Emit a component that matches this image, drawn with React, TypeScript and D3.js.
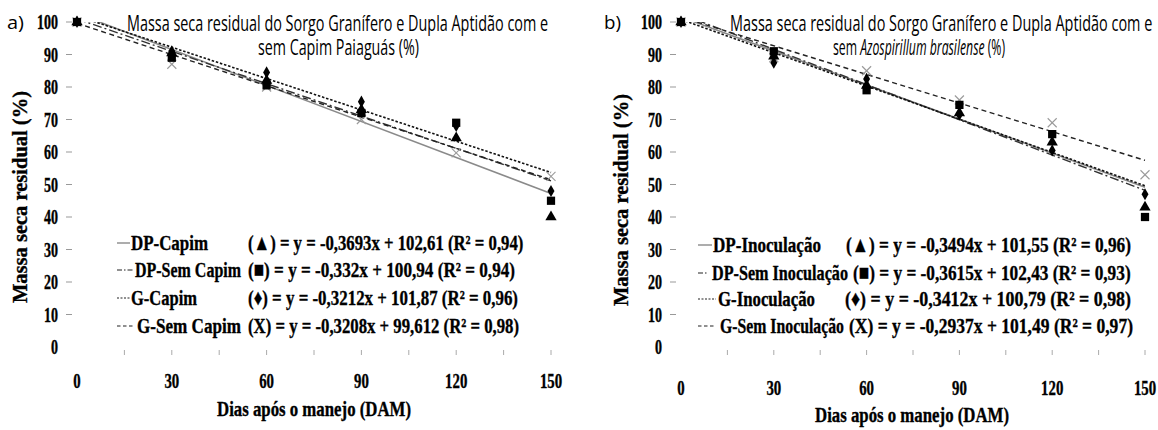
import React, { useLayoutEffect, useRef, useState } from "react";
import * as d3 from "d3";

const days = [0, 30, 60, 90, 120, 150];
const xTickLabels = [0, 30, 60, 90, 120, 150];
const xMinorTicks = [15, 30, 45, 60, 75, 90, 105, 120, 135, 150];
const yTickLabels = [0, 10, 20, 30, 40, 50, 60, 70, 80, 90, 100];

// Panel a – Capim Paiaguás
const aTitle1 = "Massa seca residual do Sorgo Granífero e Dupla Aptidão com e";
const aTitle2 = "sem Capim Paiaguás (%)";
const aLabels = ["DP-Capim", "DP-Sem Capim", "G-Capim", "G-Sem Capim"];
const aEquations = [
  "(▲) = y = -0,3693x + 102,61 (R² = 0,94)",
  "(■) = y = -0,332x + 100,94 (R² = 0,94)",
  "(♦) = y = -0,3212x + 101,87 (R² = 0,96)",
  "(X) = y = -0,3208x + 99,612 (R² = 0,98)",
];
const aSlopes = [-0.3693, -0.332, -0.3212, -0.3208];
const aIntercepts = [102.61, 100.94, 101.87, 99.612];
const aTriangle = [100, 90.5, 82, 73, 64.3, 40];
const aSquare = [100, 89, 80.5, 72, 69, 45];
const aDiamond = [100, 91, 84.5, 75.5, 68, 48];
const aCross = [100, 87, 80, 70, 59.7, 52.5];

// Panel b – Azospirillum brasilense
const bTitle1 = "Massa seca residual do Sorgo Granífero e Dupla Aptidão com e";
const bTitle2a = "sem ";
const bTitle2b = "Azospirillum brasilense";
const bTitle2c = " (%)";
const bLabels = ["DP-Inoculação", "DP-Sem Inoculação", "G-Inoculação", "G-Sem Inoculação"];
const bEquations = [
  "(▲) = y = -0,3494x + 101,55 (R² = 0,96)",
  "(■) = y = -0,3615x + 102,43 (R² = 0,93)",
  "(♦) = y = -0,3412x + 100,79 (R² = 0,98)",
  "(X) = y = -0,2937x + 101,49 (R² = 0,97)",
];
const bSlopes = [-0.3494, -0.3615, -0.3412, -0.2937];
const bIntercepts = [101.55, 102.43, 100.79, 101.49];
const bTriangle = [100, 89.5, 80.5, 72, 63, 43];
const bSquare = [100, 91, 79, 74.5, 65.5, 40];
const bDiamond = [100, 87.5, 82.5, 71.5, 60.5, 47];
const bCross = [100, 89, 85, 76, 69, 53];

const yTitle = "Massa seca residual (%)";
const xTitle = "Dias após o manejo (DAM)";

const SERIF = "'Liberation Serif', 'Times New Roman', 'DejaVu Serif', serif";
const SANS = "'Open Sans', 'Noto Sans', 'Liberation Sans', sans-serif";

const lineStyles = [
  { stroke: "#8a8a8a", dash: "", width: 1.6 },
  { stroke: "#333", dash: "9,3,2,3", width: 1.4 },
  { stroke: "#111", dash: "2.5,1.8", width: 1.6 },
  { stroke: "#222", dash: "5,3.5", width: 1.4 },
];

type Layout = {
  id: string;
  x0: number; x1: number; y0: number; y1: number;
  tag: string; tagX: number;
  yTitleX: number; yTitleY: number;
  xLabY: number; xTitleX: number; xTitleY: number;
  legLineX: number; legTextX: number[]; legTextW: number[]; legEqX: number[]; legEqW: number[]; legY: number[];
  legLineW: number[];
};

// Text squeezed horizontally (via a scale transform) to a measured target width.
function FitText({
  x, y, w, anchor = "start", rotate = 0, family = SERIF, size = 20, bold = true, heavy = true, children,
}: {
  x: number; y: number; w: number; anchor?: "start" | "middle" | "end"; rotate?: number;
  family?: string; size?: number; bold?: boolean; heavy?: boolean; children: React.ReactNode;
}) {
  const ref = useRef<SVGTextElement>(null);
  const [sx, setSx] = useState(0.72);
  useLayoutEffect(() => {
    const measure = () => {
      const el = ref.current;
      if (!el) return;
      const n = el.getComputedTextLength();
      if (n > 0) setSx(w / n);
    };
    measure();
    const fonts = (document as any).fonts;
    if (fonts && fonts.ready) fonts.ready.then(measure);
  }, [w]);
  return (
    <text
      ref={ref}
      transform={`translate(${x},${y}) rotate(${rotate}) scale(${sx},1)`}
      textAnchor={anchor}
      fontFamily={family}
      fontWeight={bold ? "bold" : "normal"}
      fontSize={size}
      fill="#000"
      stroke={heavy ? "#000" : "none"}
      strokeWidth={heavy ? 0.35 : 0}
    >
      {children}
    </text>
  );
}

function Marker({ kind, cx, cy }: { kind: number; cx: number; cy: number }) {
  if (kind === 3) {
    const s = 4.5;
    return (
      <g stroke="#9a9a9a" strokeWidth={1.1}>
        <line x1={cx - s} y1={cy - s} x2={cx + s} y2={cy + s} />
        <line x1={cx - s} y1={cy + s} x2={cx + s} y2={cy - s} />
      </g>
    );
  }
  const types = [d3.symbolTriangle, d3.symbolSquare, d3.symbolDiamond];
  const sizes = [55, 68, 42];
  const path = d3.symbol().type(types[kind]).size(sizes[kind])();
  return <path d={path || ""} transform={`translate(${cx},${cy})`} fill="#000" />;
}

function Panel({
  L, titles, labels, equations, slopes, intercepts, series,
}: {
  L: Layout; titles: React.ReactNode; labels: string[]; equations: string[];
  slopes: number[]; intercepts: number[]; series: number[][];
}) {
  const x = d3.scaleLinear().domain([0, 150]).range([L.x0, L.x1]);
  const y = d3.scaleLinear().domain([0, 100]).range([L.y0, L.y1]);
  const clipId = `clip-${L.id}`;
  return (
    <g>
      <defs>
        <clipPath id={clipId}>
          <rect x={L.x0 - 2} y={y(100)} width={L.x1 - L.x0 + 10} height={L.y0 - y(100)} />
        </clipPath>
      </defs>
      {titles}
      <FitText x={L.tagX} y={29} w={17} family={SANS} size={19} bold={false} heavy={false}>
        {L.tag}
      </FitText>
      {/* y axis */}
      {yTickLabels.map((t) => (
        <g key={t}>
          <FitText x={L.x0 - 19} y={y(t) + 7} w={String(t).length * 7} anchor="end">
            {t}
          </FitText>
          {t > 0 && <line x1={L.x0 - 11} x2={L.x0 - 5} y1={y(t)} y2={y(t)} stroke="#999" strokeWidth={1} />}
        </g>
      ))}
      <FitText x={L.yTitleX} y={L.yTitleY} w={212} anchor="middle" rotate={-90}>
        {yTitle}
      </FitText>
      {/* x axis */}
      {xMinorTicks.map((t) => (
        <line key={t} x1={x(t)} x2={x(t)} y1={L.y0 + 3} y2={L.y0 + 8} stroke="#aaa" strokeWidth={1} />
      ))}
      {xTickLabels.map((t) => (
        <FitText key={t} x={x(t)} y={L.xLabY} w={String(t).length * 7.4} anchor="middle">
          {t}
        </FitText>
      ))}
      <FitText x={L.xTitleX} y={L.xTitleY} w={194} anchor="middle" size={21}>
        {xTitle}
      </FitText>
      {/* trend lines */}
      <g clipPath={`url(#${clipId})`}>
        {slopes.map((m, i) => {
          const pts: [number, number][] = [0, 150].map((d) => [x(d), y(intercepts[i] + m * d)]);
          const p = d3.line()(pts);
          const st = lineStyles[i];
          return (
            <path key={i} d={p || ""} fill="none" stroke={st.stroke} strokeWidth={st.width} strokeDasharray={st.dash} />
          );
        })}
      </g>
      {/* markers */}
      {[3, 2, 1, 0].map((k) =>
        series[k].map((v, j) => <Marker key={`${k}-${j}`} kind={k} cx={x(days[j])} cy={y(v)} />)
      )}
      {/* legend */}
      {labels.map((lab, i) => {
        const ly = L.legY[i];
        return (
          <g key={lab}>
            <line
              x1={L.legLineX}
              x2={L.legLineX + L.legLineW[i]}
              y1={ly - 7}
              y2={ly - 7}
              stroke={i === 0 ? "#777" : "#222"}
              strokeWidth={1.2}
              strokeDasharray={i === 0 ? "" : i === 1 ? "5,2,1.5,2" : i === 2 ? "2,1.5" : "3.5,2.5"}
            />
            <FitText x={L.legTextX[i]} y={ly} w={L.legTextW[i]} size={22}>
              {lab}
            </FitText>
            <FitText x={L.legEqX[i]} y={ly} w={L.legEqW[i]} size={22}>
              {equations[i]}
            </FitText>
          </g>
        );
      })}
    </g>
  );
}

const LA: Layout = {
  id: "a",
  x0: 77, x1: 551, y0: 347, y1: 22,
  tag: "a)", tagX: 7,
  yTitleX: 27, yTitleY: 197,
  xLabY: 388, xTitleX: 314, xTitleY: 416,
  legLineX: 117,
  legLineW: [13, 16, 13, 17],
  legTextX: [131, 135, 131, 137],
  legTextW: [77, 106, 66, 104],
  legEqX: [248, 248, 248, 248],
  legEqW: [275, 267, 270, 271],
  legY: [250, 277, 305, 333],
};

const LB: Layout = {
  id: "b",
  x0: 681, x1: 1145, y0: 347, y1: 22,
  tag: "b)", tagX: 604,
  yTitleX: 628, yTitleY: 200,
  xLabY: 395, xTitleX: 912, xTitleY: 422,
  legLineX: 698,
  legLineW: [14, 10, 18, 17],
  legTextX: [713, 712, 718, 720],
  legTextW: [108, 136, 97, 124],
  legEqX: [846, 853, 845, 849],
  legEqW: [285, 278, 286, 284],
  legY: [252, 280, 306, 333],
};

export default function App() {
  return (
    <svg
      width={1158}
      height={430}
      viewBox="0 0 1158 430"
      style={{ position: "absolute", left: 0, top: 0, background: "#fff" }}
    >
      <rect width={1158} height={430} fill="#fff" />
      <Panel
        L={LA}
        titles={
          <g>
            <FitText x={127} y={31} w={421} family={SANS} size={21} bold={false} heavy={false}>
              {aTitle1}
            </FitText>
            <FitText x={258} y={55} w={161} family={SANS} size={21} bold={false} heavy={false}>
              {aTitle2}
            </FitText>
          </g>
        }
        labels={aLabels}
        equations={aEquations}
        slopes={aSlopes}
        intercepts={aIntercepts}
        series={[aTriangle, aSquare, aDiamond, aCross]}
      />
      <Panel
        L={LB}
        titles={
          <g>
            <FitText x={730} y={31} w={422} family={SANS} size={21} bold={false} heavy={false}>
              {bTitle1}
            </FitText>
            <FitText x={833} y={55} w={172} family={SANS} size={21} bold={false} heavy={false}>
              {bTitle2a}
              <tspan fontStyle="italic">{bTitle2b}</tspan>
              {bTitle2c}
            </FitText>
          </g>
        }
        labels={bLabels}
        equations={bEquations}
        slopes={bSlopes}
        intercepts={bIntercepts}
        series={[bTriangle, bSquare, bDiamond, bCross]}
      />
    </svg>
  );
}
